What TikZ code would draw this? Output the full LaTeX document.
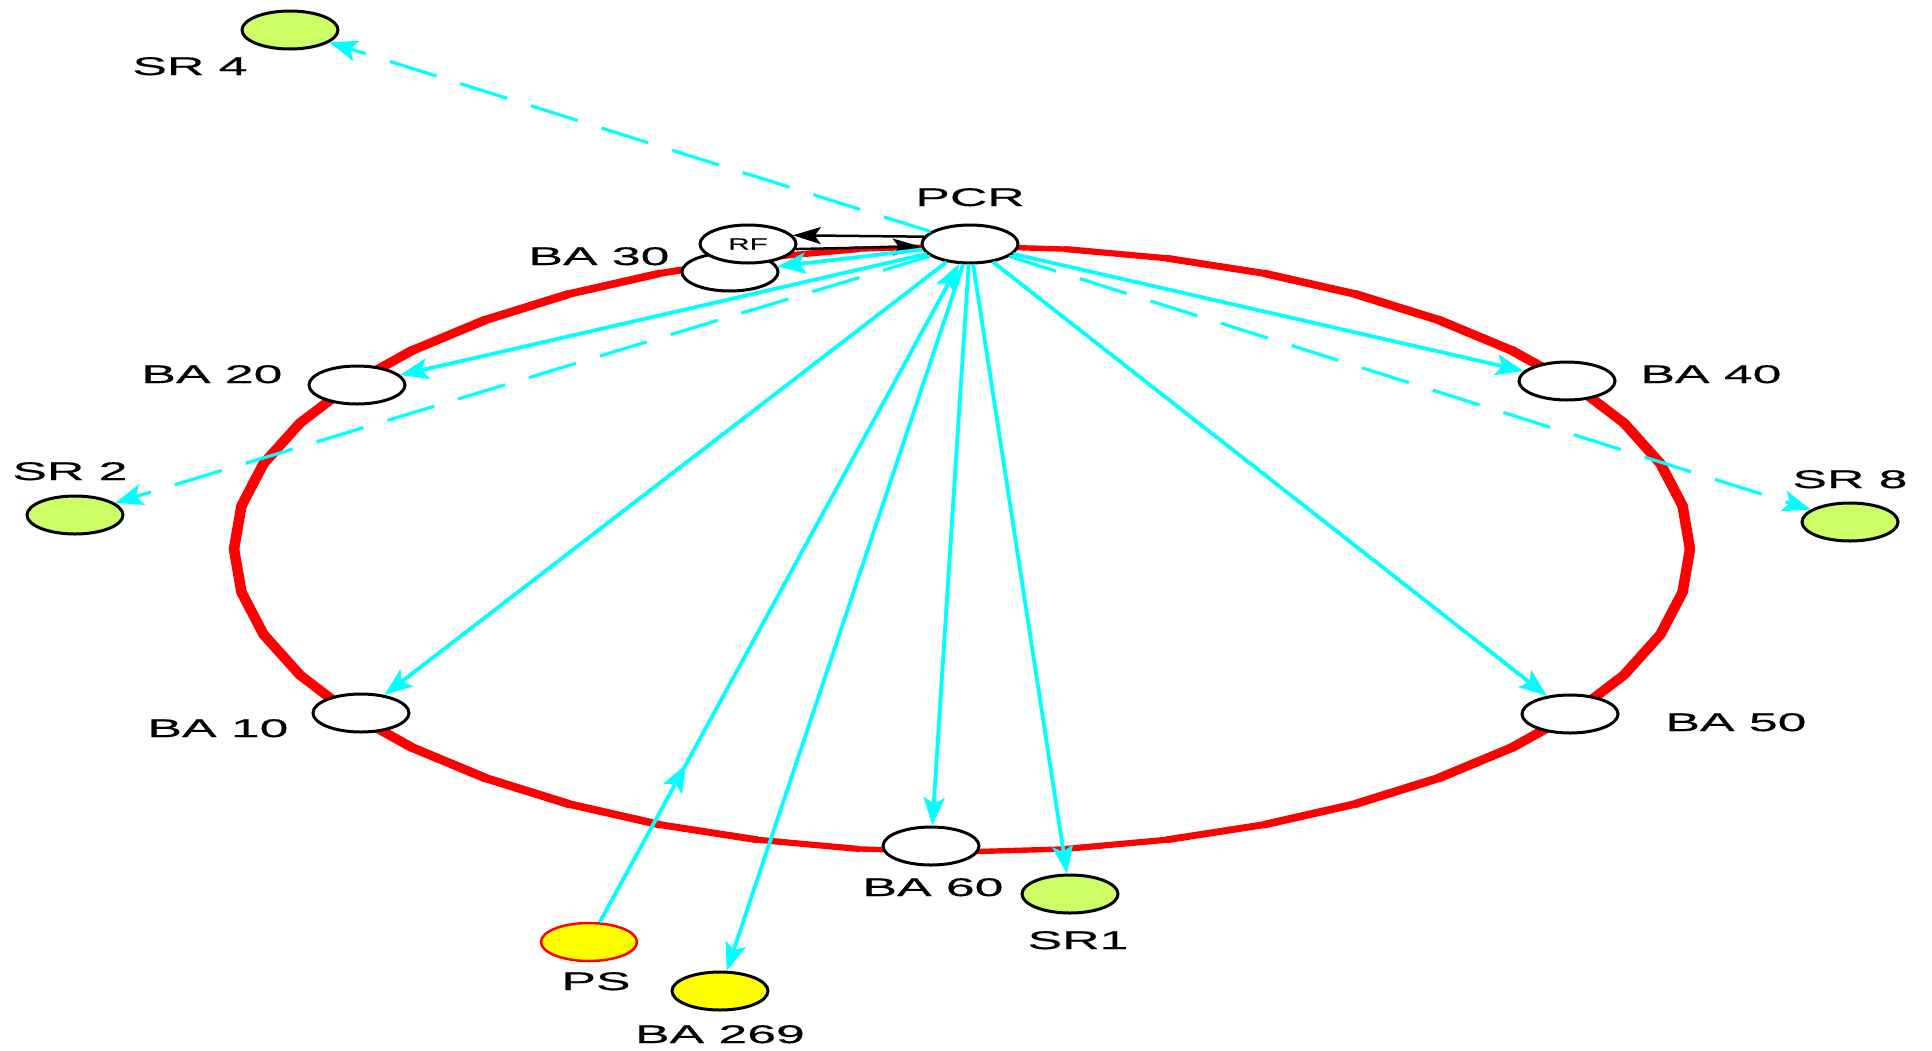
\documentclass[tikz,border=0pt]{standalone}
\usepackage{fontspec}
\newfontfamily\labelfont{Liberation Sans}[FakeStretch=2.03,FakeBold=0.5]
\newfontfamily\rffont{Liberation Sans}[FakeStretch=1.85,FakeBold=0.4]
\usetikzlibrary{shapes.geometric,arrows.meta,decorations.markings}
\definecolor{srgreen}{HTML}{CCFF66}
\definecolor{psyellow}{HTML}{FFFF00}
\definecolor{flowcyan}{HTML}{00FFFF}
\tikzset{
  station/.style={ellipse, draw=black, line width=3pt, fill=white,
    minimum width=96pt, minimum height=38pt, inner sep=0pt},
  srst/.style={station, fill=srgreen},
  yelst/.style={station, fill=psyellow},
  psst/.style={station, fill=psyellow, draw=red, line width=2.5pt},
  lbl/.style={anchor=base, inner sep=0pt, font=\labelfont\fontsize{25.5}{30}\selectfont},
  cyantip/.style={-{Stealth[length=28pt,width=21pt,inset=6pt]}},
  flow/.style={draw=flowcyan, line width=3.8pt, cyantip},
  dflow/.style={flow, line width=3.2pt, dash pattern=on 49pt off 25pt},
  ctrl/.style={draw=black, line width=2.5pt, -{Stealth[length=28pt,width=17pt,inset=6pt]}}
}
\begin{document}
\begin{tikzpicture}[x=1pt,y=-1pt]
\fill[white] (0,0) rectangle (1932,1050);
\useasboundingbox (0,0) rectangle (1932,1050);

% red ring, drawn as a polygon whose stroke thickens towards the sides
\foreach \i in {0,...,43}{
  \pgfmathsetmacro\ta{\i*360/44}
  \pgfmathsetmacro\tb{(\i+1)*360/44}
  \pgfmathsetmacro\tw{5+5.5*abs(cos(\ta+180/44))}
  \draw[red, line width=\tw pt, line cap=round]
    ({962+728*cos(\ta)},{549+303*sin(\ta)}) -- ({962+728*cos(\tb)},{549+303*sin(\tb)});
}

% stations
\node[station] (BA30) at (730,272) {};
\node[station, font=\rffont\fontsize{16}{18}\selectfont] (RF) at (748,244) {RF};
\node[station] (PCR) at (970,244) {};
\node[station] (BA20) at (357,385) {};
\node[station] (BA40) at (1567,381) {};
\node[station] (BA10) at (361,713) {};
\node[station] (BA50) at (1570,714) {};
\node[station] (BA60) at (931,846) {};
\node[srst] (SR4) at (290,30) {};
\node[srst] (SR2) at (75,515) {};
\node[srst] (SR8) at (1850,522) {};
\node[srst] (SR1) at (1070,894) {};
\node[psst] (PS) at (589,942) {};
\node[yelst] (BA269) at (720,991) {};

% labels
\node[lbl] (tSR4) at (190,75) {SR 4};
\node[lbl] (tPCR) at (970,206) {PCR};
\node[lbl] (tBA30) at (599,265) {BA 30};
\node[lbl] (tBA20) at (212,383) {BA 20};
\node[lbl] (tBA40) at (1711,383) {BA 40};
\node[lbl] (tSR2) at (70,480) {SR 2};
\node[lbl] (tSR8) at (1850,488) {SR 8};
\node[lbl] (tBA10) at (218,737) {BA 10};
\node[lbl] (tBA50) at (1736,731) {BA 50};
\node[lbl] (tBA60) at (933,896) {BA 60};
\node[lbl] (tSR1) at (1078,949) {SR1};
\node[lbl] (tPS) at (596,990) {PS};
\node[lbl] (tBA269) at (720,1043) {BA 269};

% control link between PCR and RF
\draw[ctrl] (PCR.171) -- (RF.11);
\draw[ctrl] (RF.-6) -- (PCR.183);

% distribution links from PCR
\draw[dflow] (PCR) -- (SR4);
\draw[flow] (PCR) -- (BA30);
\draw[flow] (PCR) -- (BA20);
\draw[dflow] (PCR) -- (SR2);
\draw[flow] (PCR) -- (BA10);
\draw[flow] (PCR) -- (BA269);
\draw[flow] (PCR) -- (BA60);
\draw[flow] (PCR) -- (SR1);
\draw[flow] (PCR) -- (BA50);
\draw[flow] (PCR) -- (BA40);
\draw[dflow] (PCR) -- (SR8);

% feed from PS into PCR
\draw[flow, postaction={decorate},
  decoration={markings, mark=at position 0.24 with {\arrow[flowcyan]{Stealth[length=28pt,width=21pt,inset=6pt]}}}]
  (PS) -- (PCR);
\end{tikzpicture}
\end{document}
